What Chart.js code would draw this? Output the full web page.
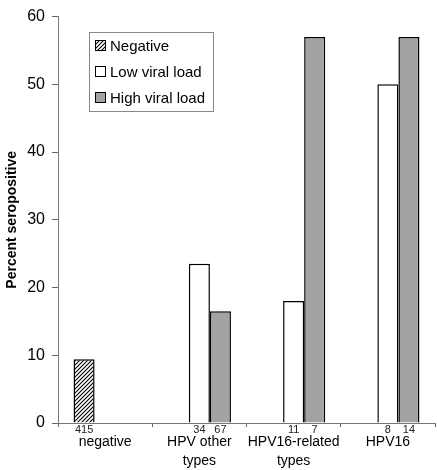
<!DOCTYPE html>
<html>
<head>
<meta charset="utf-8">
<script src="https://cdn.jsdelivr.net/npm/chart.js@4.4.1/dist/chart.umd.min.js"></script>
<style>
  html, body { margin: 0; padding: 0; background: #fff; }
  #wrap { width: 437px; height: 470px; }
</style>
</head>
<body>
<div id="wrap"><canvas id="myChart" width="437" height="470"></canvas></div>
<script>
// data
const categories = [['negative'], ['HPV other', 'types'], ['HPV16-related', 'types'], ['HPV16']];
const negativeVals = [9.4, null, null, null];
const lowVals = [null, 23.5, 18, 50];
const highVals = [null, 16.5, 57, 57];
// sample sizes printed under each bar
const negativeN = [415, null, null, null];
const lowN = [null, 34, 11, 8];
const highN = [null, 67, 7, 14];
const yTicks = [0, 10, 20, 30, 40, 50, 60];

const FONT = 'Liberation Sans, Arial, sans-serif';

// diagonal hatch for the "negative" bar
function hatch() {
    const c = document.createElement('canvas');
    c.width = 4; c.height = 4;
    const g = c.getContext('2d');
    g.fillStyle = '#fff';
    g.fillRect(0, 0, 4, 4);
    g.strokeStyle = '#000';
    g.lineWidth = 1.1;
    g.beginPath();
    g.moveTo(-1, 5); g.lineTo(5, -1);
    g.moveTo(-1, 1); g.lineTo(1, -1);
    g.moveTo(3, 5); g.lineTo(5, 3);
    g.stroke();
    return g.createPattern(c, 'repeat');
}
const hatchFill = hatch();

const legendItems = [
    { text: 'Negative', fill: hatchFill },
    { text: 'Low viral load', fill: '#ffffff' },
    { text: 'High viral load', fill: '#a3a3a3' }
];

// little n labels under the bars, drawn at the bar's own x
const countLabels = {
    id: 'countLabels',
    afterDraw(chart) {
        const ctx = chart.ctx;
        const counts = [negativeN, lowN, highN];
        ctx.save();
        ctx.font = '11px ' + FONT;
        ctx.fillStyle = '#222';
        ctx.textAlign = 'center';
        ctx.textBaseline = 'middle';
        counts.forEach((arr, di) => {
            const meta = chart.getDatasetMeta(di);
            arr.forEach((n, i) => {
                if (n === null) return;
                const bar = meta.data[i];
                ctx.fillText(String(n), bar.x, chart.chartArea.bottom + 7);
            });
        });
        ctx.restore();
    }
};

// boxed legend inside the plot
const boxLegend = {
    id: 'boxLegend',
    afterDraw(chart) {
        const ctx = chart.ctx;
        ctx.save();
        ctx.fillStyle = '#fff';
        ctx.fillRect(89.5, 32.5, 124, 79);
        ctx.strokeStyle = '#888';
        ctx.lineWidth = 1;
        ctx.strokeRect(89.5, 32.5, 124, 79);
        ctx.font = '15px ' + FONT;
        ctx.textBaseline = 'middle';
        legendItems.forEach((item, i) => {
            const y = 46 + i * 26;
            ctx.fillStyle = item.fill;
            ctx.fillRect(95.5, y - 5.5, 10, 10);
            ctx.strokeStyle = '#000';
            ctx.lineWidth = 1;
            ctx.strokeRect(95.5, y - 5.5, 10, 10);
            ctx.fillStyle = '#000';
            ctx.fillText(item.text, 110, y + 1);
        });
        ctx.restore();
    }
};

const ctx = document.getElementById('myChart').getContext('2d');
const myChart = new Chart(ctx, {
    type: 'bar',
    data: {
        labels: categories,
        datasets: [
            { label: 'Negative', data: negativeVals, backgroundColor: hatchFill, borderColor: '#000', borderWidth: 1.5 },
            { label: 'Low viral load', data: lowVals, backgroundColor: '#ffffff', borderColor: '#000', borderWidth: 1.5 },
            { label: 'High viral load', data: highVals, backgroundColor: '#a3a3a3', borderColor: '#000', borderWidth: 1.5 }
        ]
    },
    options: {
        responsive: false,
        animation: false,
        layout: { padding: { top: 10, right: 2, left: 0, bottom: 0 } },
        datasets: { bar: { categoryPercentage: 0.67, barPercentage: 1 } },
        plugins: {
            legend: { display: false },
            tooltip: { enabled: false }
        },
        scales: {
            x: {
                grid: { offset: true, drawOnChartArea: false, tickLength: 4, color: '#666' },
                border: { color: '#777', width: 1 },
                ticks: {
                    color: '#000',
                    font: { family: FONT, size: 14, lineHeight: 1.35 },
                    padding: 6,
                    maxRotation: 0,
                    autoSkip: false
                },
                afterFit(scale) { scale.height = 47; }
            },
            y: {
                min: 0,
                max: 60,
                afterBuildTicks(scale) { scale.ticks = yTicks.map(v => ({ value: v })); },
                grid: { drawOnChartArea: false, tickLength: 6, color: '#666' },
                border: { color: '#777', width: 1 },
                ticks: {
                    color: '#000',
                    font: { family: FONT, size: 16 },
                    padding: 7
                },
                title: {
                    display: true,
                    text: 'Percent seropositive',
                    color: '#000',
                    font: { family: FONT, size: 14, weight: 'bold' },
                    padding: { top: 4, bottom: 0 }
                },
                afterFit(scale) { scale.width = 58; }
            }
        }
    },
    plugins: [countLabels, boxLegend]
});
</script>
</body>
</html>
